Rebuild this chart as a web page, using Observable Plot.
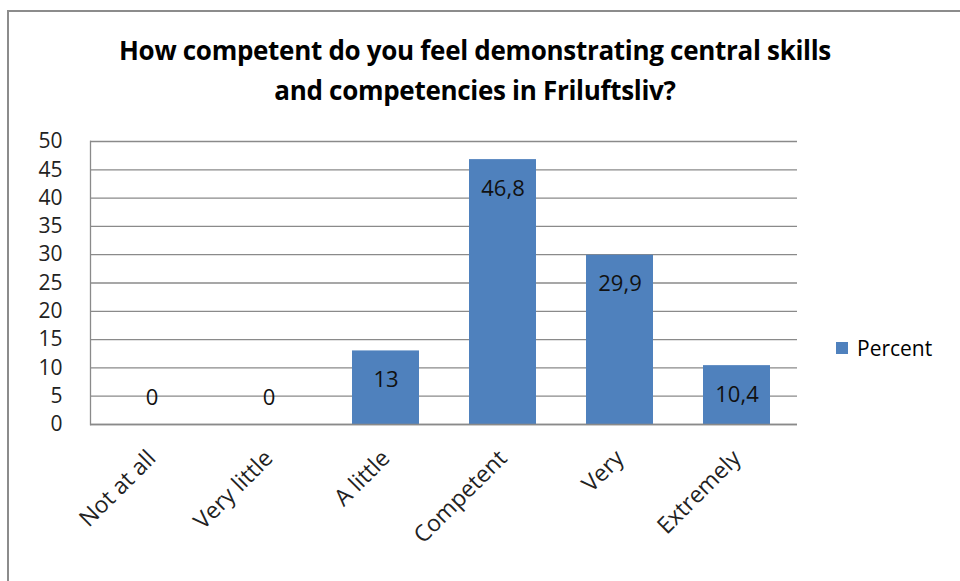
<!DOCTYPE html>
<html>
<head>
<meta charset="utf-8">
<script src="https://cdn.jsdelivr.net/npm/d3@7"></script>
<script src="https://cdn.jsdelivr.net/npm/@observablehq/plot@0.6"></script>
<style>
  html, body { margin: 0; padding: 0; background: #fff; overflow: hidden; }
  #wrap { position: relative; width: 960px; height: 581px; font-family: "Open Sans", "Noto Sans", sans-serif; }
  #frame { position: absolute; left: 7px; top: 10px; width: 1000px; height: 1000px; border: 2px solid #8c8c8c; box-sizing: border-box; }
  #title { position: absolute; left: 0; width: 950px; top: 30px; text-align: center; font-weight: bold; font-size: 26px; line-height: 40px; color: #000; letter-spacing: -0.3px; }
  #chart { position: absolute; left: 0; top: 0; }
  #legend { position: absolute; left: 836px; top: 334px; font-size: 21px; color: #000; display: flex; align-items: center; }
  #legend .sw { width: 12px; height: 12px; background: #4F81BD; margin-right: 9px; }
</style>
</head>
<body>
<div id="wrap">
  <div id="frame"></div>
  <div id="chart"></div>
  <div id="title">How competent do you feel demonstrating central skills<br>and competencies in Friluftsliv?</div>
  <div id="legend"><div class="sw"></div><span>Percent</span></div>
</div>
<script>
const categories = ["Not at all", "Very little", "A little", "Competent", "Very", "Extremely"];
const percent = [0, 0, 13, 46.8, 29.9, 10.4];
const yTicks = [0, 5, 10, 15, 20, 25, 30, 35, 40, 45, 50];
const seriesName = "Percent";

const data = categories.map((c, i) => ({ category: c, value: percent[i], label: String(percent[i]).replace(".", ",") }));

const chart = Plot.plot({
  width: 960,
  height: 581,
  marginLeft: 90,
  marginRight: 163,
  marginTop: 141,
  marginBottom: 157,
  style: { fontFamily: "'Open Sans', 'Noto Sans', sans-serif", fontSize: "21px", background: "transparent", color: "#000" },
  x: { domain: categories, paddingInner: 0.43, paddingOuter: 0.215, label: null },
  y: { domain: [0, 50], label: null },
  marks: [
    Plot.gridY(yTicks, { stroke: "#8a8a8a", strokeOpacity: 1, strokeWidth: 1.3 }),
    Plot.barY(data, { x: "category", y: "value", fill: "#4F81BD" }),
    Plot.ruleY([0], { stroke: "#8a8a8a", strokeWidth: 1.3 }),
    Plot.frame({ anchor: "left", stroke: "#8a8a8a", strokeWidth: 1.3 }),
    Plot.axisY(yTicks, { tickSize: 0, tickPadding: 28, fontSize: 21, fill: "#222", label: null }),
    Plot.axisX({ tickSize: 0, tickRotate: -45, tickPadding: 30, fontSize: 23, fill: "#222", label: null }),
    Plot.text(data.filter(d => d.value > 0), { x: "category", y: "value", text: "label", dy: 29, fontSize: 22, fill: "#111" }),
    Plot.text(data.filter(d => d.value === 0), { x: "category", y: "value", text: "label", dy: -27, fontSize: 22, fill: "#111" })
  ]
});
document.getElementById("chart").appendChild(chart);
</script>
</body>
</html>
